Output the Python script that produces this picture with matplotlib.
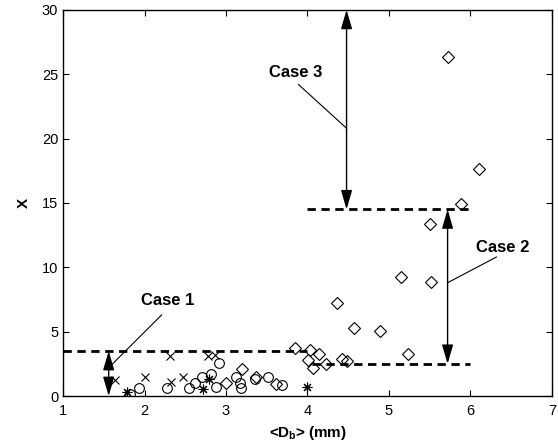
import matplotlib
matplotlib.use("Agg")
import matplotlib.pyplot as plt
import numpy as np

plt.rcParams["font.family"] = ["Liberation Sans", "DejaVu Sans"]
plt.rcParams["mathtext.fontset"] = "custom"
plt.rcParams["mathtext.rm"] = "Liberation Sans"
plt.rcParams["mathtext.bf"] = "Liberation Sans:bold"

# datos
cruz_x = [1.64, 2.01, 2.31, 2.33, 2.47, 2.78, 2.87]
cruz_y = [1.25, 1.45, 3.1, 1.1, 1.45, 3.1, 3.2]

circ_x = [1.82, 1.93, 2.28, 2.55, 2.62, 2.71, 2.82, 2.88, 2.92, 3.12, 3.17, 3.18, 3.35, 3.51, 3.69]
circ_y = [0.15, 0.6, 0.6, 0.6, 1.0, 1.45, 1.7, 0.7, 2.55, 1.45, 1.0, 0.6, 1.3, 1.5, 0.85]

ast_x = [1.78, 2.72, 2.79, 3.99]
ast_y = [0.3, 0.55, 1.3, 0.7]

diam_x = [3.0, 3.2, 3.37, 3.61, 3.85, 4.03, 4.14, 4.01, 4.07, 4.23, 4.43, 4.48,
          4.36, 4.57, 4.89, 5.23, 5.15, 5.52, 5.50, 5.89, 6.11, 5.73]
diam_y = [1.0, 2.1, 1.5, 0.95, 3.7, 3.55, 3.25, 2.8, 2.2, 2.5, 2.9, 2.75,
          7.2, 5.3, 5.05, 3.3, 9.25, 8.85, 13.4, 14.9, 17.6, 26.3]

# limiares (y, x_ini, x_fim)
limiares = [(3.5, 1.0, 4.0), (2.5, 4.05, 6.0), (14.5, 4.0, 6.0)]

# casos: nome, x da seta, y_ini, y_fim, ponto na seta, ponta da linha, posicao do texto
casos = [("Case 1", 1.56, 0.0, 3.5, 2.2, (2.21, 6.3), (2.28, 7.45)),
         ("Case 2", 5.72, 2.5, 14.5, 8.8, (6.32, 10.8), (6.4, 11.5)),
         ("Case 3", 4.48, 14.5, 30.0, 20.8, (3.89, 24.2), (3.86, 25.1))]

fig = plt.figure(figsize=(5.58, 4.47), dpi=100)
ax = fig.add_axes([0.113, 0.114, 0.876, 0.864])

for y, x0, x1 in limiares:
    ax.plot([x0, x1], [y, y], color="black", lw=2.0, linestyle=(0, (3, 2)), zorder=2)

ax.plot(cruz_x, cruz_y, linestyle="none", marker="x", ms=5.5, mew=0.8, color="black", zorder=3)
ax.plot(circ_x, circ_y, linestyle="none", marker="o", ms=7, mew=0.8, mfc="none", mec="black", zorder=3)
ax.plot(ast_x, ast_y, linestyle="none", marker=(8, 2, 0), ms=7, mew=0.8, color="black", zorder=3)
ax.plot(diam_x, diam_y, linestyle="none", marker="D", ms=6, mew=0.8, mfc="none", mec="black", zorder=3)

for nome, xs, y0, y1, yp, ponta, pos in casos:
    ax.annotate("", xy=(xs, y1), xytext=(xs, y0),
                arrowprops=dict(arrowstyle="<|-|>,head_length=1.3,head_width=0.38",
                                color="black", lw=1.0, mutation_scale=9,
                                shrinkA=0, shrinkB=0), zorder=4)
    ax.plot([xs, ponta[0]], [yp, ponta[1]], color="black", lw=0.8, zorder=4)
    ax.text(pos[0], pos[1], nome, fontsize=12, fontweight="bold", ha="center", va="center")

ax.set_xlim(1, 7)
ax.set_ylim(0, 30)
ax.set_xticks(np.arange(1, 8, 1))
ax.set_yticks(np.arange(0, 31, 5))
ax.tick_params(direction="in", top=True, right=True, length=4, labelsize=10.5, width=0.8)
ax.tick_params(axis="x", pad=6)
for s in ax.spines.values():
    s.set_linewidth(1.0)

ax.set_xlabel(r"<D$_\mathbf{b}$> (mm)", fontsize=11, fontweight="bold", labelpad=4)
ax.set_ylabel("X", fontsize=11, fontweight="bold", rotation=90, labelpad=8)

fig.savefig("out.png", dpi=100)
